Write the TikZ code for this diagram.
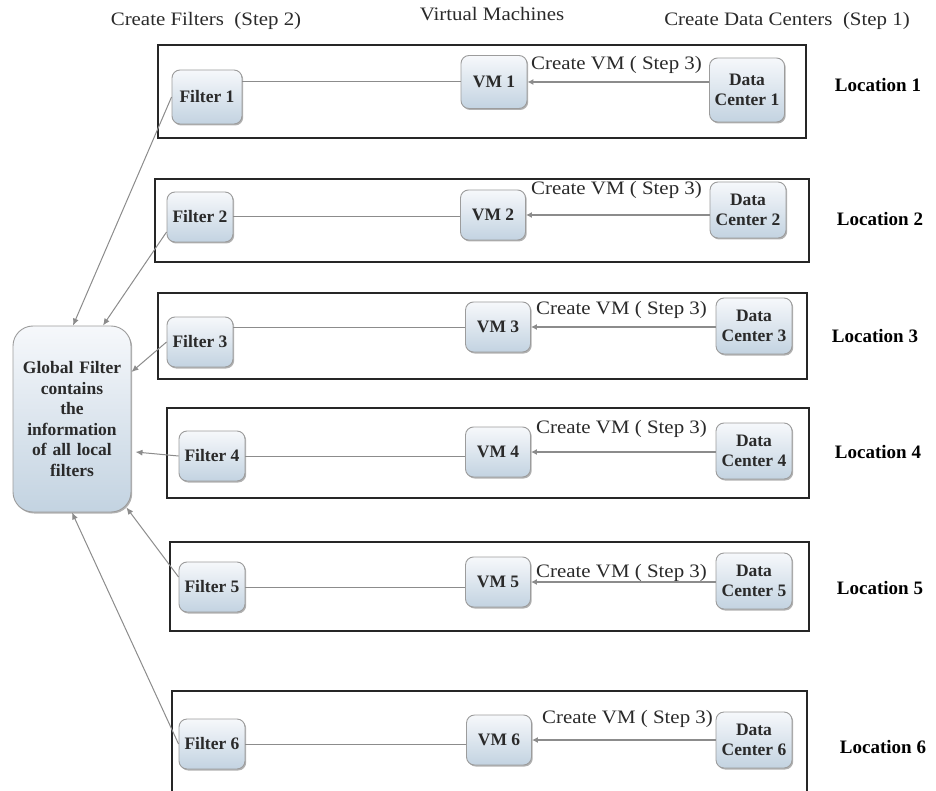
\documentclass[tikz,border=0pt]{standalone}
\usepackage{fontspec}
\setmainfont{Liberation Serif}
\newfontfamily\stretchedserif[FakeStretch=1.1]{Liberation Serif}
\usetikzlibrary{arrows.meta,shadows}

\definecolor{boxtop}{HTML}{F6F8FB}
\definecolor{boxbot}{HTML}{C3D3E1}
\definecolor{boxedge}{HTML}{9C9C9C}
\definecolor{wire}{HTML}{8C8C8C}
\definecolor{ink}{HTML}{2A2A2A}

\tikzset{
  nodebox/.style={rounded corners=8pt, draw=boxedge, line width=0.9pt,
    top color=boxtop, bottom color=boxbot,
    drop shadow={shadow xshift=1.2pt, shadow yshift=-1.5pt, opacity=0.3, fill=black},
    text=ink, font=\fontsize{17.5}{20.5}\selectfont\bfseries, align=center, inner sep=2pt},
  filterbox/.style={nodebox, minimum width=66pt, minimum height=50pt},
  vmbox/.style={nodebox, minimum width=65pt, minimum height=50pt},
  dcbox/.style={nodebox, minimum width=76pt, minimum height=56pt},
  sitebox/.style={draw=black!85, line width=1.2pt},
  link/.style={draw=wire, line width=1pt},
  createarrow/.style={draw=wire, line width=1.8pt, -{Latex[length=6pt,width=6pt]}},
  reportarrow/.style={draw=wire, line width=1pt, -{Latex[length=7pt,width=6pt]}},
  steplabel/.style={anchor=base west, inner sep=0pt, text=ink,
    font=\stretchedserif\fontsize{19}{22}\selectfont},
  header/.style={anchor=base, inner sep=0pt, text=ink,
    font=\stretchedserif\fontsize{19}{22}\selectfont},
  loclabel/.style={inner sep=0pt, text=black, font=\fontsize{19}{22}\selectfont\bfseries},
}

\begin{document}
\begin{tikzpicture}[x=1pt,y=-1pt]
  \fill[white] (0,0) rectangle (936,791);
  \useasboundingbox (0,0) rectangle (936,791);

  % column headings
  \node[header] (hfilters) at (206,26) {Create Filters\ \ (Step 2)};
  \node[header] (hvm) at (492,21) {Virtual Machines};
  \node[header] (hdc) at (787,26) {Create Data Centers\ \ (Step 1)};

  % location frames
  \draw[sitebox] (158,45) rectangle (806,138);
  \draw[sitebox] (155,179) rectangle (809,262);
  \draw[sitebox] (158,293) rectangle (807,379);
  \draw[sitebox] (167,408) rectangle (809,498);
  \draw[sitebox] (170,542) rectangle (809,631);
  \draw[sitebox] (172,795) -- (172,691) -- (807,691) -- (807,795);

  % location names
  \node[loclabel] (loc1) at (878,85) {Location 1};
  \node[loclabel] (loc2) at (880,219) {Location 2};
  \node[loclabel] (loc3) at (875,336) {Location 3};
  \node[loclabel] (loc4) at (878,452) {Location 4};
  \node[loclabel] (loc5) at (880,588) {Location 5};
  \node[loclabel] (loc6) at (883,747) {Location 6};

  % filters
  \node[filterbox, minimum width=70pt, minimum height=54pt] (F1) at (207,97) {Filter 1};
  \node[filterbox] (F2) at (200,217) {Filter 2};
  \node[filterbox] (F3) at (200,342) {Filter 3};
  \node[filterbox] (F4) at (212,456) {Filter 4};
  \node[filterbox] (F5) at (212,587) {Filter 5};
  \node[filterbox] (F6) at (212,744) {Filter 6};

  % virtual machines
  \node[vmbox, minimum width=66pt, minimum height=53pt] (V1) at (494,82) {VM 1};
  \node[vmbox] (V2) at (493,215) {VM 2};
  \node[vmbox] (V3) at (498,327) {VM 3};
  \node[vmbox] (V4) at (498,452) {VM 4};
  \node[vmbox] (V5) at (498,582) {VM 5};
  \node[vmbox] (V6) at (499,740) {VM 6};

  % data centers
  \node[dcbox, minimum width=75pt, minimum height=64pt] (D1) at (747,90) {Data\\Center 1};
  \node[dcbox] (D2) at (748,210) {Data\\Center 2};
  \node[dcbox] (D3) at (754,326) {Data\\Center 3};
  \node[dcbox] (D4) at (754,451) {Data\\Center 4};
  \node[dcbox] (D5) at (754,581) {Data\\Center 5};
  \node[dcbox] (D6) at (754,740) {Data\\Center 6};

  % global filter
  \node[nodebox, rounded corners=20pt, minimum width=118pt, minimum height=186pt,
        text width=112pt] (G) at (72,419)
        {Global Filter\\contains\\the\\information\\of all local\\filters};

  % step 3 labels
  \node[steplabel] (S1) at (531,70) {Create VM ( Step 3)};
  \node[steplabel] (S2) at (531,195) {Create VM ( Step 3)};
  \node[steplabel] (S3) at (536,315) {Create VM ( Step 3)};
  \node[steplabel] (S4) at (536,433) {Create VM ( Step 3)};
  \node[steplabel] (S5) at (536,577) {Create VM ( Step 3)};
  \node[steplabel] (S6) at (542,723) {Create VM ( Step 3)};

  % filter to VM links
  \draw[link] (V1.west -| F1.east) -- (V1.west);
  \draw[link] (F2.east) -- (F2.east -| V2.west);
  \draw[link] (V3.west -| F3.east) -- (V3.west);
  \draw[link] (F4.east) -- (F4.east -| V4.west);
  \draw[link] (F5.east) -- (F5.east -| V5.west);
  \draw[link] (F6.east) -- (F6.east -| V6.west);

  % data center creates VM
  \foreach \i in {1,...,6}
    \draw[createarrow] (V\i.east -| D\i.west) -- (V\i.east);

  % local filters report to the global filter
  \draw[reportarrow] (F1.west) -- ([xshift=1pt]G.north);
  \draw[reportarrow] ([yshift=-15pt]F2.west) -- ([xshift=31pt]G.north);
  \draw[reportarrow] (F3.west) -- ([yshift=47pt]G.east);
  \draw[reportarrow] (F4.west) -- ([xshift=4pt,yshift=-33pt]G.east);
  \draw[reportarrow] ([yshift=10pt]F5.west) -- ([xshift=-5pt,yshift=5pt]G.south east);
  \draw[reportarrow] (F6.west) -- (G.south);
\end{tikzpicture}
\end{document}
